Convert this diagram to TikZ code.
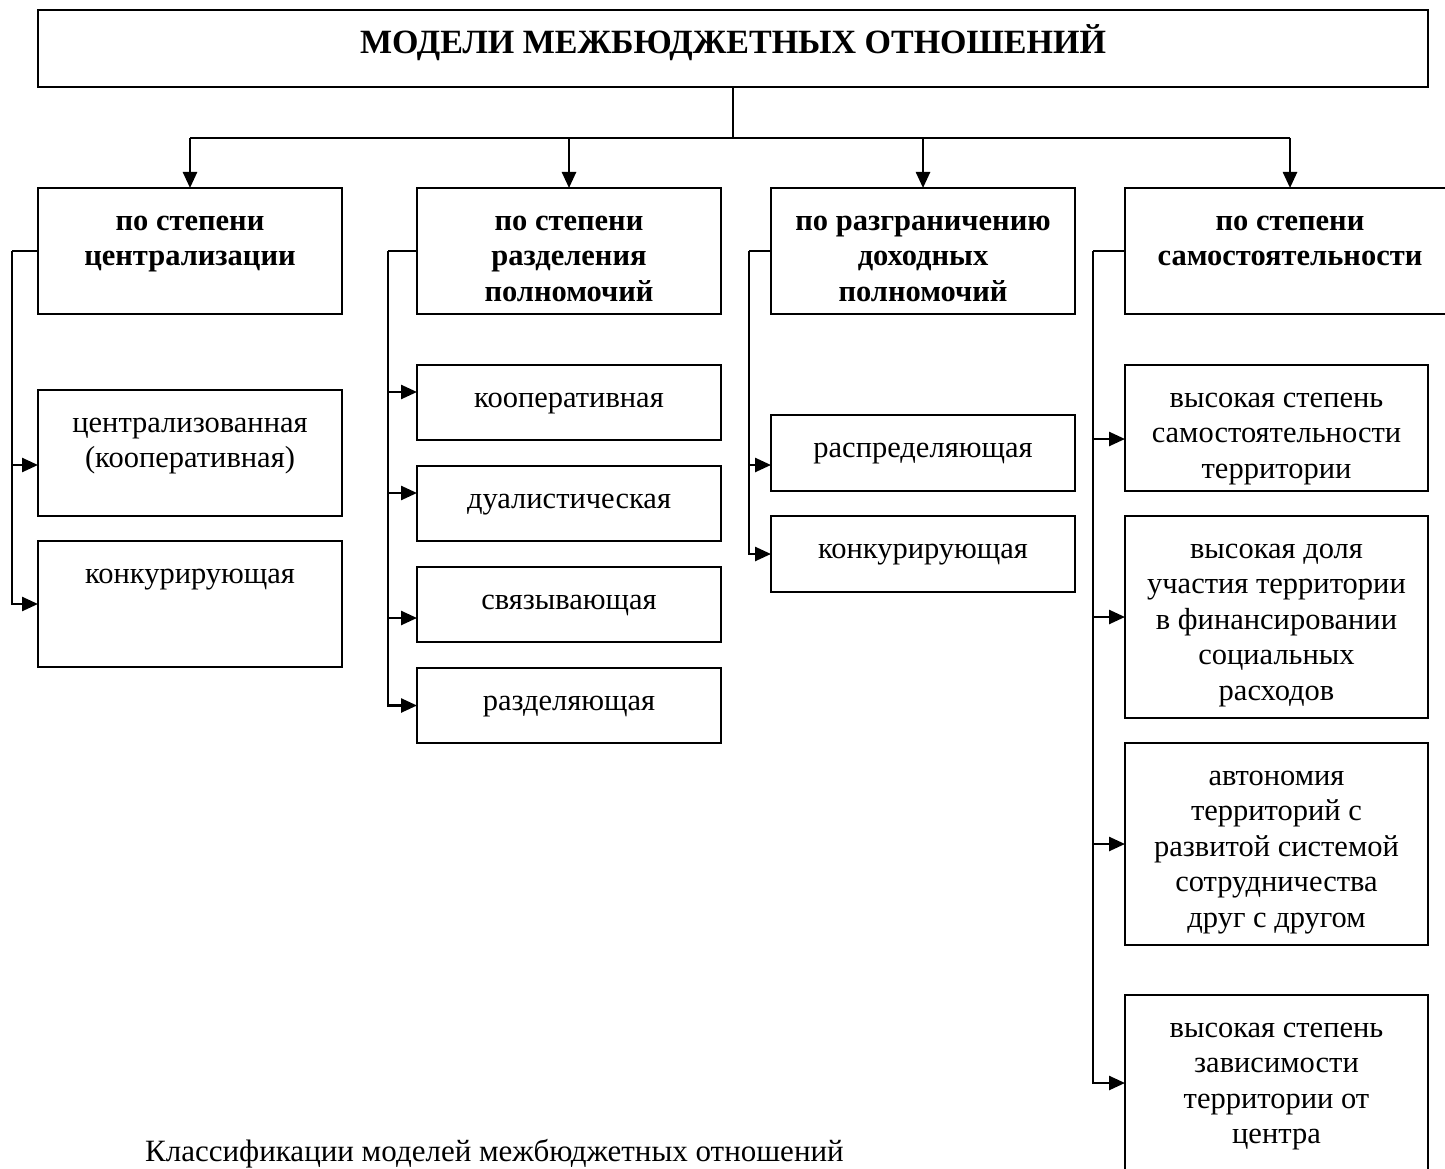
\documentclass[tikz,border=0pt]{standalone}
\usepackage{fontspec}
\setmainfont{Liberation Serif}
\usetikzlibrary{arrows.meta}
\begin{document}
\begin{tikzpicture}[x=1pt,y=-1pt,
  box/.style={draw, line width=2.8pt, inner sep=0pt, outer sep=0pt, anchor=north west, minimum width=304pt},
  txt/.style={anchor=north, inner sep=0pt, align=center, font=\fontsize{30.5}{35.5}\selectfont},
  btxt/.style={txt, font=\fontsize{30.5}{35.5}\selectfont\bfseries},
  conn/.style={line width=2.5pt},
  arr/.style={conn, -{Triangle[length=16pt,width=14pt]}},
]
\clip (0,0) rectangle (1445,1169);
\fill[white] (0,0) rectangle (1445,1169);
% title
\node[box, minimum width=1390pt, minimum height=77pt] (title) at (38,10) {};
\node[anchor=base, inner sep=0pt, font=\fontsize{34}{40}\selectfont\bfseries] (titlet) at (733,54) {МОДЕЛИ МЕЖБЮДЖЕТНЫХ ОТНОШЕНИЙ};
% headers
\node[box, minimum height=126pt] (h1) at (38,188) {};
\node[box, minimum height=126pt] (h2) at (417,188) {};
\node[box, minimum height=126pt] (h3) at (771,188) {};
\node[box, minimum height=126pt, minimum width=330pt] (h4) at (1125,188) {};
\node[btxt] (h1t) at ([yshift=-17pt]h1.north) {\strut по степени\\централизации};
\node[btxt] (h2t) at ([yshift=-17pt]h2.north) {\strut по степени\\разделения\\полномочий};
\node[btxt] (h3t) at ([yshift=-17pt]h3.north) {\strut по разграничению\\доходных\\полномочий};
\node[btxt] (h4t) at ([yshift=-17pt]h4.north) {\strut по степени\\самостоятельности};
% column 1
\node[box, minimum height=126pt] (c1a) at (38,390) {};
\node[box, minimum height=126pt] (c1b) at (38,541) {};
\node[txt] (c1at) at ([yshift=-17pt]c1a.north) {\strut централизованная\\(кооперативная)};
\node[txt] (c1bt) at ([yshift=-17pt]c1b.north) {\strut конкурирующая};
% column 2
\node[box, minimum height=75pt] (c2a) at (417,365) {};
\node[box, minimum height=75pt] (c2b) at (417,466) {};
\node[box, minimum height=75pt] (c2c) at (417,567) {};
\node[box, minimum height=75pt] (c2d) at (417,668) {};
\node[txt] (c2at) at ([yshift=-17pt]c2a.north) {\strut кооперативная};
\node[txt] (c2bt) at ([yshift=-17pt]c2b.north) {\strut дуалистическая};
\node[txt] (c2ct) at ([yshift=-17pt]c2c.north) {\strut связывающая};
\node[txt] (c2dt) at ([yshift=-17pt]c2d.north) {\strut разделяющая};
% column 3
\node[box, minimum height=76pt] (c3a) at (771,415) {};
\node[box, minimum height=76pt] (c3b) at (771,516) {};
\node[txt] (c3at) at ([yshift=-17pt]c3a.north) {\strut распределяющая};
\node[txt] (c3bt) at ([yshift=-17pt]c3b.north) {\strut конкурирующая};
% column 4
\node[box, minimum height=126pt, minimum width=303pt] (c4a) at (1125,365) {};
\node[box, minimum height=202pt, minimum width=303pt] (c4b) at (1125,516) {};
\node[box, minimum height=202pt, minimum width=303pt] (c4c) at (1125,743) {};
\node[box, minimum height=200pt, minimum width=303pt] (c4d) at (1125,995) {};
\node[txt] (c4at) at ([yshift=-17pt]c4a.north) {\strut высокая степень\\самостоятельности\\территории};
\node[txt] (c4bt) at ([yshift=-17pt]c4b.north) {\strut высокая доля\\участия территории\\в финансировании\\социальных\\расходов};
\node[txt] (c4ct) at ([yshift=-17pt]c4c.north) {\strut автономия\\территорий с\\развитой системой\\сотрудничества\\друг с другом};
\node[txt] (c4dt) at ([yshift=-17pt]c4d.north) {\strut высокая степень\\зависимости\\территории от\\центра};
% caption
\node[anchor=base west, inner sep=0pt, font=\fontsize{31}{36}\selectfont] (cap) at (145,1161) {Классификации моделей межбюджетных отношений};
% top connectors
\coordinate (jt) at (733,138);
\draw[conn] (title.south) -- (jt);
\draw[conn] (h1.north |- jt) -- (h4.north |- jt);
\draw[arr] (h1.north |- jt) -- (h1.north);
\draw[arr] (h2.north |- jt) -- (h2.north);
\draw[arr] (h3.north |- jt) -- (h3.north);
\draw[arr] (h4.north |- jt) -- (h4.north);
% side buses
\coordinate (b1) at (12,251);
\coordinate (b2) at (388,251);
\coordinate (b3) at (749,251);
\coordinate (b4) at (1093,251);
\draw[conn] (h1.west) -- (b1);
\draw[conn] (h2.west) -- (b2);
\draw[conn] (h3.west) -- (b3);
\draw[conn] (h4.west) -- (b4);
\draw[arr] (b1) |- ([yshift=-12pt]c1a.west);
\draw[arr] (b1) |- (c1b.west);
\draw[arr] (b2) |- ([yshift=10.5pt]c2a.west);
\draw[arr] (b2) |- ([yshift=10.5pt]c2b.west);
\draw[arr] (b2) |- ([yshift=-13.5pt]c2c.west);
\draw[arr] (b2) |- (c2d.west);
\draw[arr] (b3) |- ([yshift=-12pt]c3a.west);
\draw[arr] (b3) |- (c3b.west);
\draw[arr] (b4) |- ([yshift=-11pt]c4a.west);
\draw[arr] (b4) |- (c4b.west);
\draw[arr] (b4) |- (c4c.west);
\draw[arr] (b4) |- ([yshift=12pt]c4d.west);
\end{tikzpicture}
\end{document}
